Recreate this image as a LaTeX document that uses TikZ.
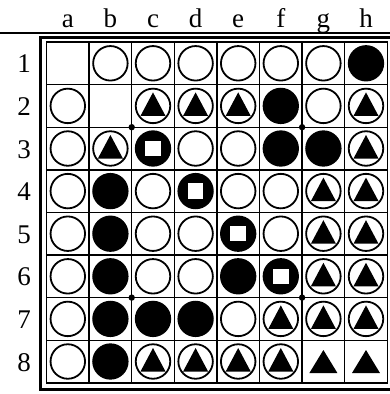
\documentclass[tikz,border=0pt]{standalone}
\usepackage{fontspec}
\setmainfont{Liberation Serif}
\usepackage{tikz}
\tikzstyle{disc} = [circle, minimum size=34.5pt, inner sep=0pt, draw=black,
                    line width=1.8pt]
\tikzstyle{W}    = [disc, fill=white]
\tikzstyle{B}    = [disc, fill=black]
\tikzstyle{T}    = [W, path picture={\fill[black] (path picture bounding box.center)
                    ++(0,-13.5) -- ++(-12.5,23.5) -- ++(25,0) -- cycle;}]
\tikzstyle{S}    = [B, path picture={\fill[white] (path picture bounding box.center)
                    ++(-7.75,-7.75) rectangle ++(15.5,15.5);}]
\tikzstyle{P}    = [rectangle, minimum size=34pt, inner sep=0pt,
                    path picture={\fill[black] (path picture bounding box.center)
                    ++(0,-11.5) -- ++(-14,23) -- ++(28,0) -- cycle;}]
\tikzstyle{E}    = [coordinate]
\tikzstyle{lbl}  = [font=\fontsize{27}{31}\selectfont, anchor=base, inner sep=0pt]
\tikzstyle{rule} = [line width=1.4pt]

\begin{document}
\begin{tikzpicture}[x=1pt, y=-1pt]
  \useasboundingbox (0,0) rectangle (390,394);

  % frame
  \draw[line width=1.2pt] (0,33) -- (390,33);
  \draw[line width=3.5pt] (40.5,37.7) rectangle (392,389.5);
  \foreach \k in {1,...,7} {
    \draw[rule] ({46.5+42.6*\k},42) -- ++(0,340.8);
    \draw[rule] (46.5,{42+42.6*\k}) -- ++(340.8,0);
  }
  \draw[rule] (46.5,42) rectangle (387.3,382.8);
  \foreach \sx/\sy in {2/2,6/2,2/6,6/6}
    \fill ({46.5+42.6*\sx},{42+42.6*\sy}) circle (3.2);

  % labels
  \foreach \l [count=\i] in {a,...,h}
    \node[lbl] (col-\l) at ({46.5+42.6*(\i-0.5)},27) {\l};
  \foreach \r in {1,...,8}
    \node[lbl] (row-\r) at (24,{42+42.6*(\r-0.5)+9.5}) {\r};

  % position
  \foreach \row [count=\r] in {{E,W,W,W,W,W,W,B},{W,E,T,T,T,B,W,T},
      {W,T,S,W,W,B,B,T},{W,B,W,S,W,W,T,T},{W,B,W,W,S,W,T,T},
      {W,B,W,W,B,S,T,T},{W,B,B,B,W,T,T,T},{W,B,T,T,T,T,P,P}}
    \foreach \c [count=\i] in \row {
      \pgfmathsetmacro\col{{"a","b","c","d","e","f","g","h"}[\i-1]}
      \node[\c] (\col\r) at ({46.5+42.6*(\i-0.5)},{42+42.6*(\r-0.5)}) {};
    }
\end{tikzpicture}
\end{document}
